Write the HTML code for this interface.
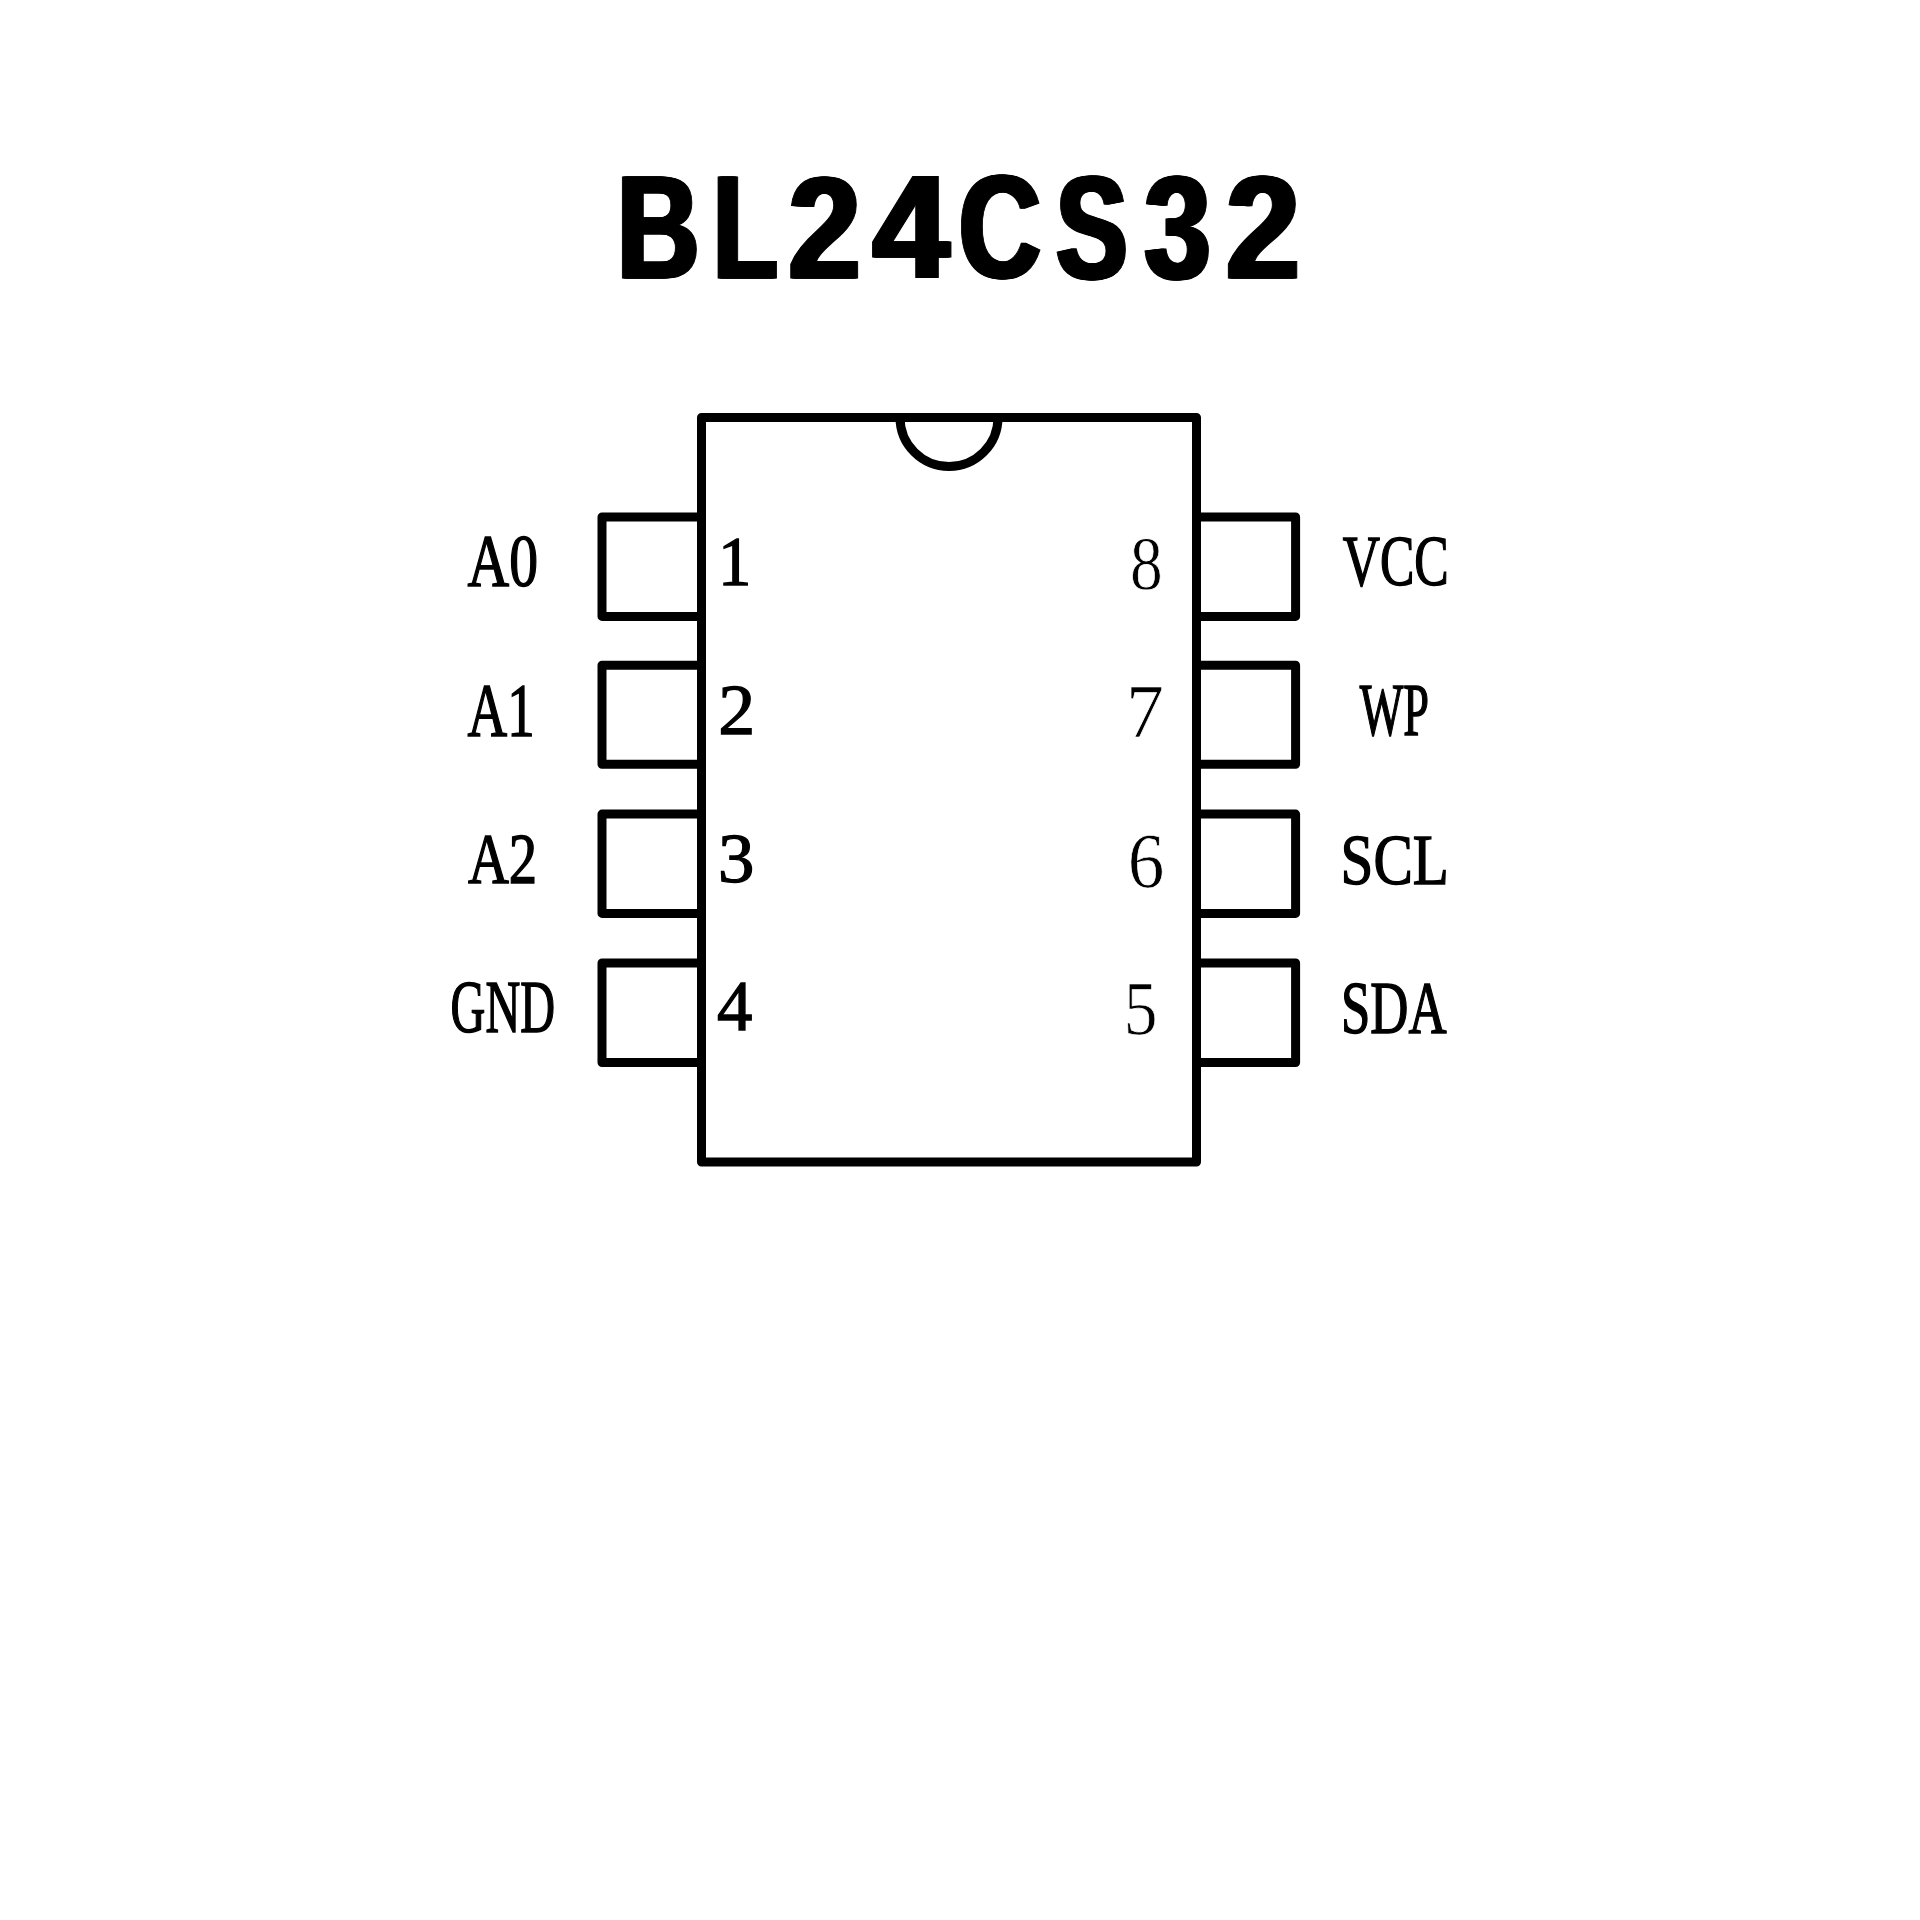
<!DOCTYPE html>
<html><head><meta charset="utf-8"><title>BL24CS32</title>
<style>
html,body{margin:0;padding:0;background:#fff;width:1920px;height:1920px;overflow:hidden}
svg{display:block}
.t{font-family:"Liberation Sans",sans-serif;font-weight:bold;font-size:100px}
.s{font-family:"Liberation Serif",serif;font-size:100px}
</style></head>
<body>
<svg width="1920" height="1920" viewBox="0 0 1920 1920">
<rect x="0" y="0" width="1920" height="1920" fill="#fff"/>
<g fill="#000">
<text id="tg0" class="t" stroke="#000" stroke-width="1.0" vector-effect="non-scaling-stroke" transform="matrix(1.13934 0 0 1.46618 614.71 278.00)">B</text>
<use href="#tg0" x="1.125"/><use href="#tg0" x="2.250"/><use href="#tg0" x="3.375"/><use href="#tg0" x="4.500"/>
<text id="tg1" class="t" stroke="#000" stroke-width="1.0" vector-effect="non-scaling-stroke" transform="matrix(1.05366 0 0 1.46618 710.89 278.00)">L</text>
<use href="#tg1" x="1.125"/><use href="#tg1" x="2.250"/><use href="#tg1" x="3.375"/><use href="#tg1" x="4.500"/>
<text id="tg2" class="t" stroke="#000" stroke-width="1.0" vector-effect="non-scaling-stroke" transform="matrix(1.29583 0 0 1.45376 786.26 277.80)">2</text>
<use href="#tg2" x="1.125"/><use href="#tg2" x="2.250"/><use href="#tg2" x="3.375"/><use href="#tg2" x="4.500"/>
<text id="tg3" class="t" stroke="#000" stroke-width="1.0" vector-effect="non-scaling-stroke" transform="matrix(1.37850 0 0 1.45891 870.43 277.80)">4</text>
<use href="#tg3" x="1.125"/><use href="#tg3" x="2.250"/><use href="#tg3" x="3.375"/><use href="#tg3" x="4.500"/>
<text id="tg4" class="t" stroke="#000" stroke-width="1.0" vector-effect="non-scaling-stroke" transform="matrix(1.13282 0 0 1.46996 956.87 278.43)">C</text>
<use href="#tg4" x="1.125"/><use href="#tg4" x="2.250"/><use href="#tg4" x="3.375"/><use href="#tg4" x="4.500"/>
<text id="tg5" class="t" stroke="#000" stroke-width="1.0" vector-effect="non-scaling-stroke" transform="matrix(1.06611 0 0 1.47279 1054.10 278.63)">S</text>
<use href="#tg5" x="1.125"/><use href="#tg5" x="2.250"/><use href="#tg5" x="3.375"/><use href="#tg5" x="4.500"/>
<text id="tg6" class="t" stroke="#000" stroke-width="1.0" vector-effect="non-scaling-stroke" transform="matrix(1.18593 0 0 1.46572 1142.33 278.33)">3</text>
<use href="#tg6" x="1.125"/><use href="#tg6" x="2.250"/><use href="#tg6" x="3.375"/><use href="#tg6" x="4.500"/>
<text id="tg7" class="t" stroke="#000" stroke-width="1.0" vector-effect="non-scaling-stroke" transform="matrix(1.32708 0 0 1.46093 1223.66 278.00)">2</text>
<use href="#tg7" x="1.125"/><use href="#tg7" x="2.250"/><use href="#tg7" x="3.375"/><use href="#tg7" x="4.500"/>
<text class="s" stroke="#000" stroke-width="1.3" vector-effect="non-scaling-stroke" transform="matrix(0.57702 0 0 0.73333 467.47 586.22)">A0</text>
<text class="s" stroke="#000" stroke-width="1.3" vector-effect="non-scaling-stroke" transform="matrix(0.54924 0 0 0.75303 467.50 736.35)">A1</text>
<text class="s" stroke="#000" stroke-width="1.3" vector-effect="non-scaling-stroke" transform="matrix(0.56674 0 0 0.72000 467.88 883.35)">A2</text>
<text class="s" stroke="#000" stroke-width="1.3" vector-effect="non-scaling-stroke" transform="matrix(0.48168 0 0 0.73383 450.62 1032.37)">GND</text>
<text class="s" stroke="#000" stroke-width="1.3" vector-effect="non-scaling-stroke" transform="matrix(0.66667 0 0 0.68788 718.12 584.55)">1</text>
<text class="s" stroke="#000" stroke-width="1.3" vector-effect="non-scaling-stroke" transform="matrix(0.74000 0 0 0.71698 718.32 733.55)">2</text>
<text class="s" stroke="#000" stroke-width="1.3" vector-effect="non-scaling-stroke" transform="matrix(0.72727 0 0 0.68996 718.00 881.56)">3</text>
<text class="s" stroke="#000" stroke-width="1.3" vector-effect="non-scaling-stroke" transform="matrix(0.70753 0 0 0.70875 716.93 1030.15)">4</text>
<text class="s" stroke="#fff" stroke-width="0.7" vector-effect="non-scaling-stroke" transform="matrix(0.65412 0 0 0.76074 1129.90 588.99)">8</text>
<text class="s" stroke="#fff" stroke-width="0.7" vector-effect="non-scaling-stroke" transform="matrix(0.75802 0 0 0.75267 1125.97 737.45)">7</text>
<text class="s" stroke="#fff" stroke-width="0.7" vector-effect="non-scaling-stroke" transform="matrix(0.73333 0 0 0.78216 1127.78 886.67)">6</text>
<text class="s" stroke="#fff" stroke-width="0.7" vector-effect="non-scaling-stroke" transform="matrix(0.67578 0 0 0.75338 1123.66 1033.60)">5</text>
<text class="s" stroke="#000" stroke-width="1.3" vector-effect="non-scaling-stroke" transform="matrix(0.51608 0 0 0.71587 1342.63 585.28)">VCC</text>
<text class="s" stroke="#000" stroke-width="1.3" vector-effect="non-scaling-stroke" transform="matrix(0.46164 0 0 0.73433 1359.75 734.55)">WP</text>
<text class="s" stroke="#000" stroke-width="1.3" vector-effect="non-scaling-stroke" transform="matrix(0.59092 0 0 0.71970 1340.56 883.53)">SCL</text>
<text class="s" stroke="#000" stroke-width="1.3" vector-effect="non-scaling-stroke" transform="matrix(0.52779 0 0 0.73606 1340.99 1032.51)">SDA</text>
</g>
<g fill="none" stroke="#000" stroke-width="9" stroke-linejoin="round" stroke-linecap="butt">
<rect x="701.5" y="417.5" width="495.0" height="744.5"/>
<path d="M900.0 417.5 A49.0 49.0 0 0 0 998.0 417.5"/>
<path d="M701.5 517.0 H602.0 V616.4 H701.5"/>
<path d="M1196.5 517.0 H1295.6 V616.4 H1196.5"/>
<path d="M701.5 665.2 H602.0 V764.3 H701.5"/>
<path d="M1196.5 665.2 H1295.6 V764.3 H1196.5"/>
<path d="M701.5 814.1 H602.0 V913.4 H701.5"/>
<path d="M1196.5 814.1 H1295.6 V913.4 H1196.5"/>
<path d="M701.5 962.9 H602.0 V1062.5 H701.5"/>
<path d="M1196.5 962.9 H1295.6 V1062.5 H1196.5"/>
</g>
</svg>
</body></html>
